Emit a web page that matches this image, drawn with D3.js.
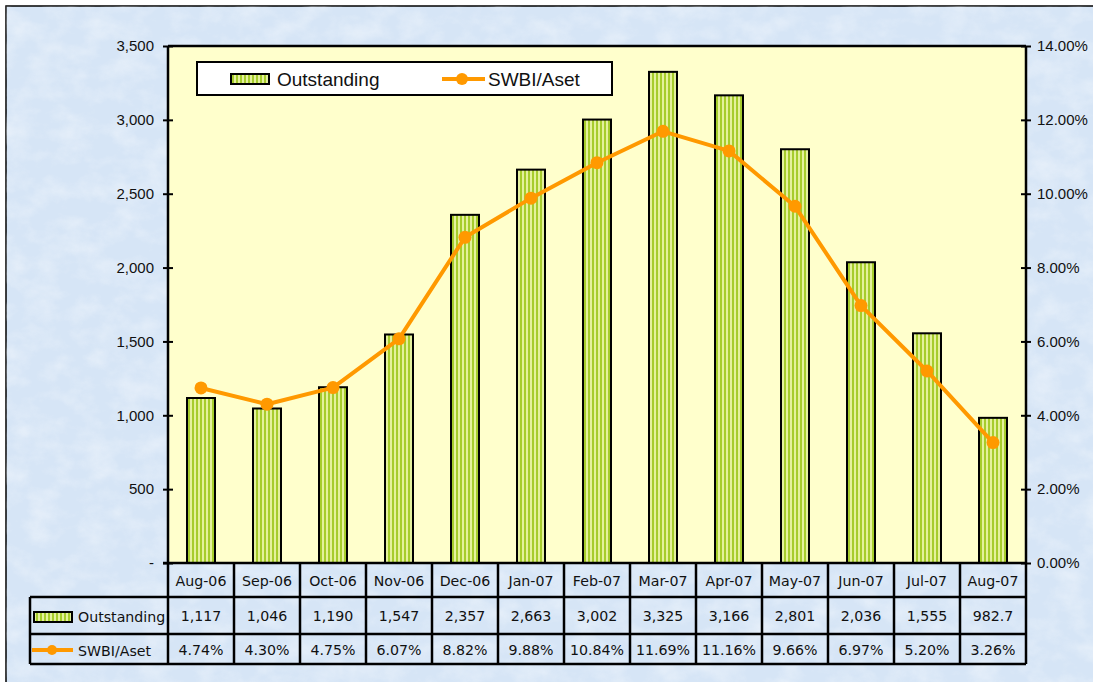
<!DOCTYPE html>
<html><head><meta charset="utf-8">
<script src="https://cdn.jsdelivr.net/npm/d3@7"></script>
<style>body{margin:0;background:#fff}svg{display:block}</style>
</head><body><svg id="c" width="1093" height="682"></svg>
<script>
const categories = ["Aug-06","Sep-06","Oct-06","Nov-06","Dec-06","Jan-07","Feb-07","Mar-07","Apr-07","May-07","Jun-07","Jul-07","Aug-07"];
const outstanding = [1117,1046,1190,1547,2357,2663,3002,3325,3166,2801,2036,1555,982.7];
const outstandingLabels = ["1,117","1,046","1,190","1,547","2,357","2,663","3,002","3,325","3,166","2,801","2,036","1,555","982.7"];
const swbi = [4.74,4.30,4.75,6.07,8.82,9.88,10.84,11.69,11.16,9.66,6.97,5.20,3.26];
const leftTicks = [0,500,1000,1500,2000,2500,3000,3500];
const rightTicks = [0,2,4,6,8,10,12,14];
const seriesNames = ["Outstanding","SWBI/Aset"];

const svg = d3.select("#c");
const L=168, R=1026, T=46, B=563;
const ORANGE="#ff9900";

const defs = svg.append("defs");
const pat = defs.append("pattern").attr("id","stripe").attr("patternUnits","userSpaceOnUse").attr("width",4).attr("height",4);
pat.append("rect").attr("width",4).attr("height",4).attr("fill","#e4f19c");
pat.append("rect").attr("width",2).attr("height",4).attr("fill","#a6cc2c");
const f = defs.append("filter").attr("id","tex").attr("x",0).attr("y",0).attr("width","100%").attr("height","100%");
f.append("feTurbulence").attr("type","fractalNoise").attr("baseFrequency","0.035 0.05").attr("numOctaves",4).attr("seed",3).attr("result","n");
f.append("feColorMatrix").attr("in","n").attr("type","matrix")
 .attr("values","0 0 0 0 1  0 0 0 0 1  0 0 0 0 1  0.9 0 0 0 -0.35").attr("result","w");
f.append("feComposite").attr("in","w").attr("in2","SourceGraphic").attr("operator","in");

// background
svg.append("rect").attr("x",6).attr("y",6).attr("width",1100).attr("height",700).attr("fill","#d6e5f6").attr("stroke","#000").attr("stroke-width",1.5);
svg.append("rect").attr("x",6).attr("y",6).attr("width",1100).attr("height",700).attr("fill","#d6e5f6").attr("filter","url(#tex)").attr("opacity",0.8);

// plot area
svg.append("rect").attr("x",L).attr("y",T).attr("width",R-L).attr("height",B-T).attr("fill","#ffffcc");

const x = d3.scaleBand().domain(categories).range([L,R]);
const yL = d3.scaleLinear().domain([0,3500]).range([B,T]);
const yR = d3.scaleLinear().domain([0,14]).range([B,T]);
const bw = 28;

// bars
svg.append("g").selectAll("rect").data(outstanding).join("rect")
 .attr("x",(d,i)=>x(categories[i])+x.bandwidth()/2-bw/2).attr("y",d=>yL(d))
 .attr("width",bw).attr("height",d=>B-yL(d))
 .attr("fill","url(#stripe)").attr("stroke","#000").attr("stroke-width",2);

// line
const cx = i=>x(categories[i])+x.bandwidth()/2;
svg.append("path").datum(swbi).attr("fill","none").attr("stroke",ORANGE).attr("stroke-width",4).attr("stroke-linejoin","round")
 .attr("d",d3.line().x((d,i)=>cx(i)).y(d=>yR(d)));
svg.append("g").selectAll("circle").data(swbi).join("circle").attr("cx",(d,i)=>cx(i)).attr("cy",d=>yR(d)).attr("r",6.5).attr("fill",ORANGE);

// axes
const axL = svg.append("g").attr("transform",`translate(${L},0)`)
 .call(d3.axisLeft(yL).tickValues(leftTicks).tickSize(5).tickPadding(10).tickFormat(d=>d===0?"-":d3.format(",")(d)));
const axR = svg.append("g").attr("transform",`translate(${R},0)`)
 .call(d3.axisRight(yR).tickValues(rightTicks).tickSize(5).tickPadding(6).tickFormat(d=>d.toFixed(2)+"%"));
[axL,axR].forEach(a=>{
  a.attr("font-size",15).attr("font-family","Liberation Sans, Arial, sans-serif");
  a.select(".domain").attr("stroke","#000").attr("stroke-width",2.5).attr("d",`M0,${T}V${B}`);
  a.selectAll(".tick line").attr("stroke","#000").attr("stroke-width",2).attr("x1",-5).attr("x2",5);
  a.selectAll(".tick text").attr("fill","#111");
});
axL.selectAll(".tick text").attr("x",-14);
axR.selectAll(".tick text").attr("x",11);
svg.append("line").attr("x1",L).attr("x2",R).attr("y1",T).attr("y2",T).attr("stroke","#000").attr("stroke-width",2.5);

// table
const tg = svg.append("g");
const tl = (x1,y1,x2,y2)=>tg.append("line").attr("x1",x1).attr("y1",y1).attr("x2",x2).attr("y2",y2).attr("stroke","#000").attr("stroke-width",2.5);
tl(L-5,B,R,B);
tl(30,597,R,597); tl(30,634,R,634); tl(30,664,R,664);
tl(30,597,30,664);
categories.forEach((c,i)=>tl(x(c),B,x(c),664));
tl(R,B,R,664);
const tf = "DejaVu Sans, Verdana, sans-serif";
const tText = (tx,ty,s,anchor)=>tg.append("text").attr("x",tx).attr("y",ty).attr("text-anchor",anchor||"middle").attr("dominant-baseline","central").attr("font-family",tf).attr("font-size",14.2).attr("fill","#111").text(s);
categories.forEach((c,i)=>{
  tText(cx(i),581,c);
  tText(cx(i),616,outstandingLabels[i]);
  tText(cx(i),650,swbi[i].toFixed(2)+"%");
});
tg.append("rect").attr("x",34).attr("y",612).attr("width",38).attr("height",10).attr("fill","url(#stripe)").attr("stroke","#000").attr("stroke-width",2);
tText(78,617,seriesNames[0],"start");
tg.append("line").attr("x1",32).attr("x2",73).attr("y1",650).attr("y2",650).attr("stroke",ORANGE).attr("stroke-width",4);
tg.append("circle").attr("cx",52).attr("cy",650).attr("r",5).attr("fill",ORANGE);
tText(78,651,seriesNames[1],"start");

// legend
const lg = svg.append("g");
lg.append("rect").attr("x",197).attr("y",62).attr("width",415).attr("height",33).attr("fill","#fff").attr("stroke","#000").attr("stroke-width",2);
lg.append("rect").attr("x",231).attr("y",74).attr("width",38).attr("height",10).attr("fill","url(#stripe)").attr("stroke","#000").attr("stroke-width",2);
lg.append("text").attr("x",277).attr("y",79).attr("dominant-baseline","central").attr("font-family","Liberation Sans, Arial, sans-serif").attr("font-size",19).attr("fill","#111").text(seriesNames[0]);
lg.append("line").attr("x1",442).attr("x2",485).attr("y1",79).attr("y2",79).attr("stroke",ORANGE).attr("stroke-width",4);
lg.append("circle").attr("cx",462).attr("cy",79).attr("r",6).attr("fill",ORANGE);
lg.append("text").attr("x",488).attr("y",79).attr("dominant-baseline","central").attr("font-family","Liberation Sans, Arial, sans-serif").attr("font-size",19).attr("fill","#111").text(seriesNames[1]);
</script></body></html>
